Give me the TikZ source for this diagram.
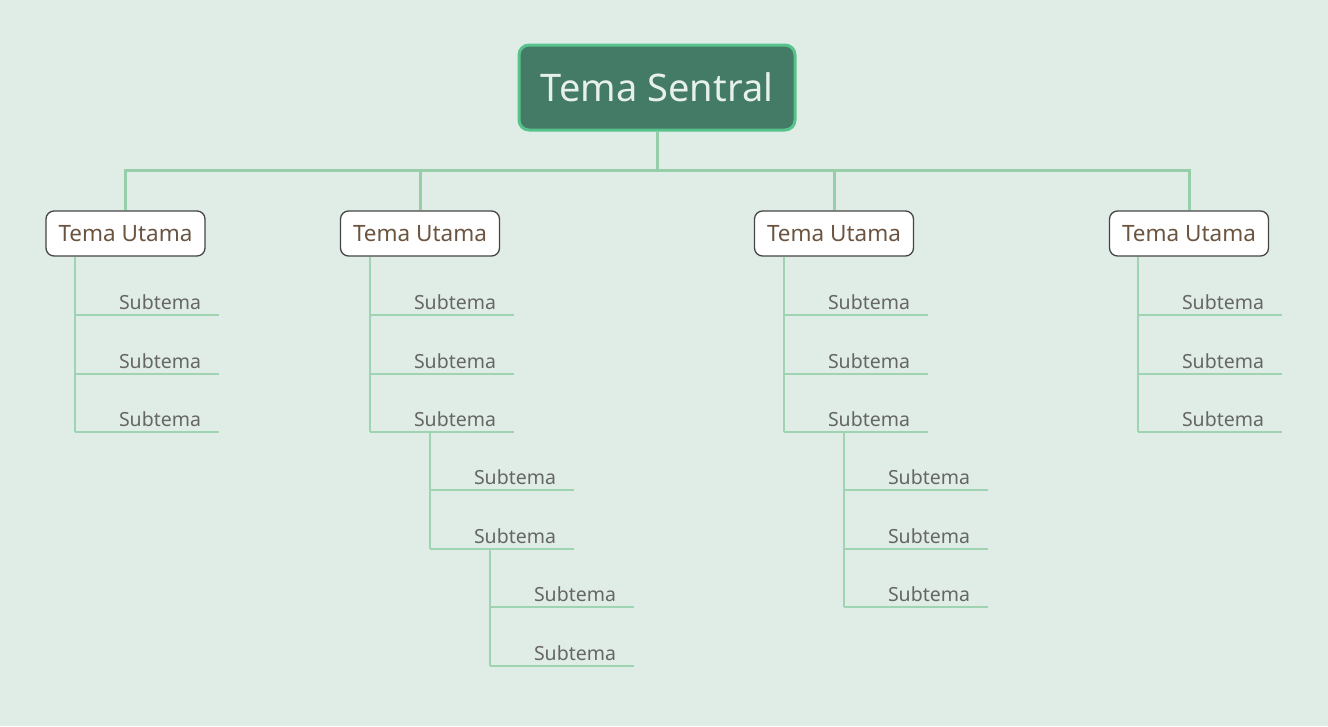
\documentclass[tikz,border=0pt]{standalone}
\usepackage{fontspec}
\setmainfont{Noto Sans}
\definecolor{bgc}{HTML}{E0EDE6}
\definecolor{cfill}{HTML}{437B66}
\definecolor{cborder}{HTML}{58C28D}
\definecolor{ctext}{HTML}{E8F0EB}
\definecolor{linec}{HTML}{96CEA9}
\definecolor{sublinec}{HTML}{9FD4B2}
\definecolor{mborder}{HTML}{454545}
\definecolor{mtext}{HTML}{6B5440}
\definecolor{stext}{HTML}{666666}
\newcommand\subnode[3]{%
  \node[sub] (#1) at (#2,#3-6) {\hspace*{44pt}Subtema};
  \draw[subline] ([yshift=-6pt]#1.base west) -- ([yshift=-6pt]#1.base east);}
\begin{document}
\begin{tikzpicture}[x=1pt,y=-1pt,
  central/.style={draw=cborder, fill=cfill, line width=3pt, rounded corners=10pt,
    minimum width=276pt, minimum height=85pt, inner sep=0pt, text=ctext,
    font=\fontsize{38}{46}\selectfont},
  mainbox/.style={draw=mborder, fill=white, line width=1.3pt, rounded corners=8pt,
    minimum width=159pt, minimum height=45pt, inner sep=0pt, text=mtext,
    font=\fontsize{22.5}{27}\selectfont},
  sub/.style={anchor=base west, inner sep=0pt, outer sep=0pt, text width=144pt,
    align=left, text=stext, font=\fontsize{19.5}{23}\selectfont},
  conn/.style={draw=linec, line width=3pt},
  subline/.style={draw=sublinec, line width=2pt}]
\fill[bgc] (0,0) rectangle (1328,726);
\useasboundingbox (0,0) rectangle (1328,726);
% central
\node[central] (c) at (657,87.5) {Tema Sentral};
\coordinate (bar) at (657,170);
% main topics
\node[mainbox] (m1) at (125.5,233.5) {Tema Utama};
\node[mainbox] (m2) at (420,233.5) {Tema Utama};
\node[mainbox] (m3) at (834,233.5) {Tema Utama};
\node[mainbox] (m4) at (1189,233.5) {Tema Utama};
% connectors
\draw[conn] (c.south) -- (bar);
\draw[conn, line cap=rect] (m1.north |- bar) -- (m4.north |- bar);
\foreach \m in {m1,m2,m3,m4}{\draw[conn] (\m.north |- bar) -- (\m.north);}
% subtopics of m1
\subnode{s11}{75}{315}
\subnode{s12}{75}{374}
\subnode{s13}{75}{432}
\draw[subline] (s11.base west |- m1.south) -- ([yshift=-6pt]s13.base west);
% subtopics of m2
\subnode{s21}{370}{315}
\subnode{s22}{370}{374}
\subnode{s23}{370}{432}
\draw[subline] (s21.base west |- m2.south) -- ([yshift=-6pt]s23.base west);
\subnode{s231}{430}{490}
\subnode{s232}{430}{549}
\draw[subline] ([yshift=-6pt]s231.base west |- s23.base west) -- ([yshift=-6pt]s232.base west);
\subnode{s2321}{490}{607}
\subnode{s2322}{490}{666}
\draw[subline] ([yshift=-6pt]s2321.base west |- s232.base west) -- ([yshift=-6pt]s2322.base west);
% subtopics of m3
\subnode{s31}{784}{315}
\subnode{s32}{784}{374}
\subnode{s33}{784}{432}
\draw[subline] (s31.base west |- m3.south) -- ([yshift=-6pt]s33.base west);
\subnode{s331}{844}{490}
\subnode{s332}{844}{549}
\subnode{s333}{844}{607}
\draw[subline] ([yshift=-6pt]s331.base west |- s33.base west) -- ([yshift=-6pt]s333.base west);
% subtopics of m4
\subnode{s41}{1138}{315}
\subnode{s42}{1138}{374}
\subnode{s43}{1138}{432}
\draw[subline] (s41.base west |- m4.south) -- ([yshift=-6pt]s43.base west);
\end{tikzpicture}
\end{document}
